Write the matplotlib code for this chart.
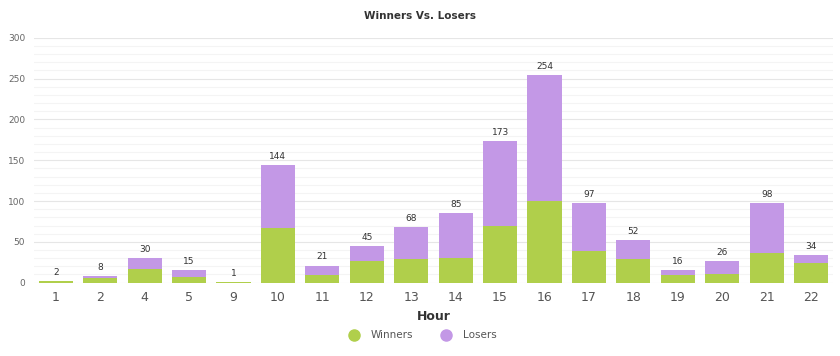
import matplotlib.pyplot as plt
import numpy as np
from matplotlib.lines import Line2D

hours = ["1", "2", "4", "5", "9", "10", "11", "12", "13", "14", "15",
         "16", "17", "18", "19", "20", "21", "22"]
winners = [2, 6, 17, 7, 1, 67, 9, 27, 29, 30, 70, 100, 39, 29, 9, 10, 36, 24]
losers = [0, 2, 13, 8, 0, 77, 12, 18, 39, 55, 103, 154, 58, 23, 7, 16, 62, 10]

green = "#b0cf4b"
purple = "#c398e6"

fig = plt.figure(figsize=(8.4, 3.56), dpi=100)
ax = fig.add_axes([0.040, 0.206, 0.952, 0.688])

x = np.arange(len(hours))
width = 0.77
ax.bar(x, winners, width, color=green, zorder=3)
ax.bar(x, losers, width, bottom=winners, color=purple, zorder=3)

totals = [w + l for w, l in zip(winners, losers)]
for xi, t in zip(x, totals):
    ax.text(xi, t + 5, f"{t}", ha="center", va="bottom", fontsize=6.5, color="#333333")

ax.set_xlim(-0.5, len(hours) - 0.5)
ax.set_ylim(0, 300)
ax.set_yticks(range(0, 301, 50))
ax.set_yticks(range(0, 301, 10), minor=True)
ax.grid(axis="y", which="major", color="#e6e6e6", linewidth=0.8, zorder=0)
ax.grid(axis="y", which="minor", color="#f4f4f4", linewidth=0.8, zorder=0)

ax.set_xticks(x)
ax.set_xticklabels(hours, fontsize=9, color="#555555")
ax.tick_params(axis="y", which="both", length=0, labelsize=6.5, labelcolor="#666666", pad=6)
ax.tick_params(axis="x", length=0, pad=6)

for s in ax.spines.values():
    s.set_visible(False)

ax.set_xlabel("Hour", fontsize=9, fontweight="bold", color="#333333", labelpad=4)
fig.text(0.5, 0.955, "Winners Vs. Losers", ha="center", va="center",
         fontsize=7.5, fontweight="bold", color="#333333")

handles = [
    Line2D([], [], marker="o", linestyle="", markersize=8, color=green, label="Winners"),
    Line2D([], [], marker="o", linestyle="", markersize=8, color=purple, label="Losers"),
]
fig.legend(handles=handles, loc="center", bbox_to_anchor=(0.5, 0.058), ncol=2,
           frameon=False, fontsize=7.5, labelcolor="#555555", handletextpad=0.6,
           columnspacing=2.2)

fig.savefig("out.png", dpi=100, facecolor="white")
